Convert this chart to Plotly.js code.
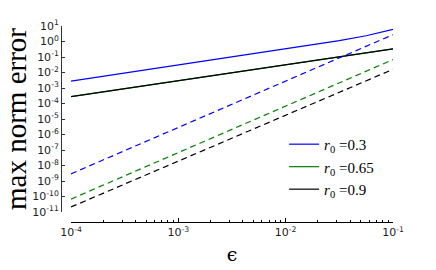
<!DOCTYPE html>
<html>
<head>
<meta charset="utf-8">
<script src="https://cdn.plot.ly/plotly-3.0.1.min.js"></script>
<style>html,body{margin:0;padding:0;background:#fff;}#chart{width:436px;height:270px;}</style>
</head>
<body>
<div id="chart"></div>
<script>
// epsilon sample points
const eps = [1e-4, 3.16e-4, 1e-3, 3.16e-3, 1e-2, 1.78e-2, 3.16e-2, 5.62e-2, 1e-1];
const epsLine = [1e-4, 1e-3, 1e-2, 1e-1];

// solid curves
const blueSolid  = [2.8e-3, 9.3e-3, 3.2e-2, 0.105, 0.34, 0.63, 1.15, 2.34, 6.0];
const blackSolid = [2.75e-4, 2.95e-3, 3.1e-2, 0.33];
const greenSolid = [2.75e-4, 2.95e-3, 3.1e-2, 0.33];

// dashed curves
const blueDashed  = [2.9e-9, 2.8e-6, 2.8e-3, 2.75];
const greenDashed = [6.8e-11, 6.8e-8, 6.8e-5, 6.8e-2];
const blackDashed = [2.1e-11, 1.95e-8, 1.8e-5, 1.6e-2];

const labels = ['<i>r</i><sub>0</sub> =0.3', '<i>r</i><sub>0</sub> =0.65', '<i>r</i><sub>0</sub> =0.9'];
const colors = ['#0000ff', '#008000', '#000000'];

const yTickVals = [1e1,1e0,1e-1,1e-2,1e-3,1e-4,1e-5,1e-6,1e-7,1e-8,1e-9,1e-10,1e-11];
const yTickText = ['10<sup>1</sup>','10<sup>0</sup>','10<sup>-1</sup>','10<sup>-2</sup>','10<sup>-3</sup>','10<sup>-4</sup>','10<sup>-5</sup>','10<sup>-6</sup>','10<sup>-7</sup>','10<sup>-8</sup>','10<sup>-9</sup>','10<sup>-10</sup>','10<sup>-11</sup>'];
const xTickVals = [1e-4, 1e-3, 1e-2, 1e-1];
const xTickText = ['10<sup>-4</sup>','10<sup>-3</sup>','10<sup>-2</sup>','10<sup>-1</sup>'];

const lw = 1.2;
const traces = [
  {x: eps, y: blueSolid, name: labels[0], legendgroup: 'a', line: {color: colors[0], width: lw}},
  {x: epsLine, y: greenSolid, name: labels[1], legendgroup: 'b', line: {color: colors[1], width: lw}},
  {x: epsLine, y: blackSolid, name: labels[2], legendgroup: 'c', line: {color: colors[2], width: lw}},
  {x: epsLine, y: blueDashed, showlegend: false, legendgroup: 'a', line: {color: colors[0], width: lw, dash: '6px,4px'}},
  {x: epsLine, y: greenDashed, showlegend: false, legendgroup: 'b', line: {color: colors[1], width: lw, dash: '6px,4px'}},
  {x: epsLine, y: blackDashed, showlegend: false, legendgroup: 'c', line: {color: colors[2], width: lw, dash: '6px,4px'}}
].map(t => Object.assign({type: 'scatter', mode: 'lines', hoverinfo: 'skip'}, t));

const layout = {
  width: 436, height: 270,
  margin: {l: 61, r: 43, t: 26, b: 48},
  paper_bgcolor: '#fff', plot_bgcolor: '#fff',
  showlegend: true,
  font: {family: 'DejaVu Sans', size: 11, color: '#222'},
  xaxis: {
    type: 'log', range: [-4, -1], domain: [0.0301, 1],
    anchor: 'free', position: 0,
    showline: true, linecolor: '#000', linewidth: 1,
    showgrid: false, zeroline: false,
    ticks: 'inside', ticklen: 4, tickcolor: '#000', tickwidth: 1,
    tickvals: xTickVals, ticktext: xTickText,
    tickfont: {family: 'DejaVu Sans', size: 11, color: '#222'},
    minor: {dtick: 'D1', ticks: 'inside', ticklen: 2, tickcolor: '#000', tickwidth: 1, showgrid: false},
    title: {text: 'ϵ', font: {family: 'DejaVu Serif', size: 19, color: '#000'}, standoff: 9}
  },
  yaxis: {
    type: 'log', range: [-11, 1], domain: [0.051, 1],
    anchor: 'free', position: 0,
    showline: true, linecolor: '#333', linewidth: 1,
    showgrid: false, zeroline: false,
    ticks: 'inside', ticklen: 3, tickcolor: '#333', tickwidth: 1,
    tickvals: yTickVals, ticktext: yTickText,
    tickfont: {family: 'DejaVu Sans', size: 11, color: '#222'},
    title: {text: 'max norm error', font: {family: 'Liberation Serif', size: 29, color: '#000'}, standoff: 2}
  },
  legend: {
    x: 0.672, y: 0.48, xanchor: 'left', yanchor: 'top',
    bgcolor: 'rgba(0,0,0,0)', borderwidth: 0,
    traceorder: 'grouped', tracegroupgap: 0,
    font: {family: 'Liberation Serif', size: 15, color: '#000'}
  }
};

Plotly.newPlot('chart', traces, layout, {displayModeBar: false, staticPlot: true});
</script>
</body>
</html>
